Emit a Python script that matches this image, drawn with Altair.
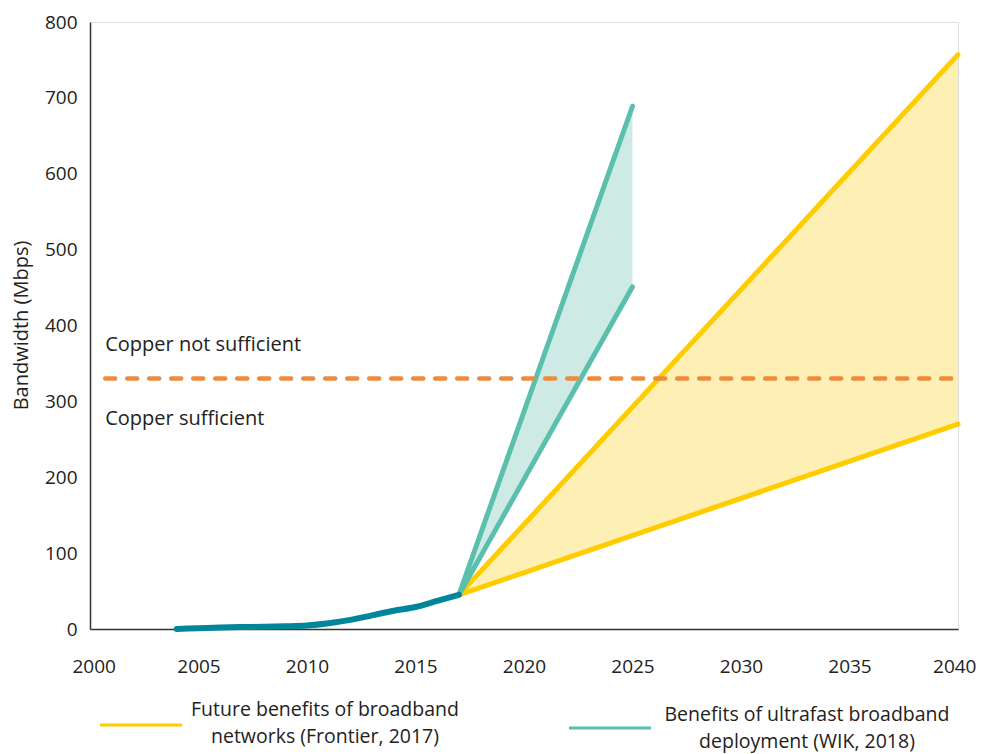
import altair as alt
import pandas as pd

# Historical bandwidth
hist_years = [2004, 2005, 2006, 2007, 2008, 2009, 2010, 2011, 2012, 2013, 2014, 2015, 2016, 2017]
hist_values = [0, 1, 2, 2.5, 3, 3.5, 4.5, 7.5, 12, 18, 24, 29, 37, 45]

# Projections
series_names = ["Future benefits of broadband networks (Frontier, 2017)",
                "Benefits of ultrafast broadband deployment (WIK, 2018)"]
legend_lines = [["Future benefits of broadband", "networks (Frontier, 2017)"],
                ["Benefits of ultrafast broadband", "deployment (WIK, 2018)"]]
proj_start_year = 2017
proj_start_value = 45
proj_end_years = [2040, 2025]
proj_upper = [757, 689]
proj_lower = [270, 451]

# Copper threshold
copper_value = 330
copper_years = [2000.7, 2040]
label_texts = ["Copper not sufficient", "Copper sufficient"]
label_values = [374, 277]
label_year = 2000.7

YELLOW = "#FFCC00"
YELLOW_FILL = "#FEF0B4"
GREEN = "#5BBFAD"
GREEN_FILL = "#CDEAE5"
TEAL = "#00859A"
ORANGE = "#F08A3C"
FONT = "Open Sans"
TXT = "#222222"
series_colors = [YELLOW, GREEN]

rows_line = []
rows_area = []
for name, ey, up, lo in zip(series_names, proj_end_years, proj_upper, proj_lower):
    for bound, v in [("upper", up), ("lower", lo)]:
        rows_line.append({"series": name, "bound": bound, "year": proj_start_year, "value": proj_start_value})
        rows_line.append({"series": name, "bound": bound, "year": ey, "value": v})
    rows_area.append({"series": name, "year": proj_start_year, "lo": proj_start_value, "hi": proj_start_value})
    rows_area.append({"series": name, "year": ey, "lo": lo, "hi": up})

line_df = pd.DataFrame(rows_line)
area_df = pd.DataFrame(rows_area)
hist_df = pd.DataFrame({"year": hist_years, "value": hist_values})
copper_df = pd.DataFrame({"year": copper_years, "value": [copper_value] * len(copper_years)})
label_df = pd.DataFrame({"year": [label_year] * 2, "value": label_values, "text": label_texts})

x_scale = alt.Scale(domain=[2000, 2040], nice=False, zero=False)
y_scale = alt.Scale(domain=[0, 800], nice=False)

x_axis = alt.Axis(values=list(range(2000, 2041, 5)), format="d", title=None, ticks=False,
                  grid=False, labelPadding=28, labelFontSize=19, labelFont=FONT,
                  labelFlush=True, labelFlushOffset=18,
                  labelColor=TXT, domainColor="#333", domainWidth=1.5)
y_axis = alt.Axis(values=list(range(0, 801, 100)), title="Bandwidth (Mbps)", ticks=False, grid=False,
                  labelPadding=13, labelFontSize=19, labelFont=FONT, labelColor=TXT, labelFlush=False,
                  domainColor="#333", domainWidth=1.5, titleFont=FONT, titleFontSize=20,
                  titleFontWeight="normal", titleColor=TXT, titleX=-69, titleY=303,
                  titleBaseline="middle", titleAngle=270)

color_scale = alt.Scale(domain=series_names, range=series_colors)
fill_scale = alt.Scale(domain=series_names, range=[YELLOW_FILL, GREEN_FILL])

areas = alt.Chart(area_df).mark_area(opacity=1).encode(
    x=alt.X("year:Q", scale=x_scale, axis=x_axis),
    y=alt.Y("lo:Q", scale=y_scale, axis=y_axis),
    y2="hi:Q",
    fill=alt.Fill("series:N", scale=fill_scale, legend=None),
    detail="series:N",
)

lines = alt.Chart(line_df).mark_line(strokeWidth=5, strokeCap="round").encode(
    x=alt.X("year:Q", scale=x_scale),
    y=alt.Y("value:Q", scale=y_scale),
    color=alt.Color("series:N", scale=color_scale, legend=None),
    detail="bound:N",
)

hist = alt.Chart(hist_df).mark_line(strokeWidth=6, strokeCap="round", strokeJoin="round",
                                    color=TEAL, interpolate="monotone").encode(
    x=alt.X("year:Q", scale=x_scale),
    y=alt.Y("value:Q", scale=y_scale),
)

copper = alt.Chart(copper_df).mark_line(strokeWidth=4.5, strokeDash=[10, 12], strokeCap="round",
                                        color=ORANGE).encode(
    x=alt.X("year:Q", scale=x_scale),
    y=alt.Y("value:Q", scale=y_scale),
)

labels = alt.Chart(label_df).mark_text(align="left", baseline="middle", font=FONT, fontSize=20,
                                       color=TXT).encode(
    x=alt.X("year:Q", scale=x_scale),
    y=alt.Y("value:Q", scale=y_scale),
    text="text:N",
)

# Legend (drawn below the plot area; pixel offsets relative to the plot origin)
legend_layout = [
    {"x0": 10, "x1": 92, "sy": 703, "tx": 235, "ty": 694},
    {"x0": 479, "x1": 561, "sy": 706, "tx": 717, "ty": 699},
]
legend_layers = []
for name, txt, col, lay in zip(series_names, legend_lines, series_colors, legend_layout):
    one = pd.DataFrame({"series": [name]})
    legend_layers.append(
        alt.Chart(one).mark_rule(strokeWidth=3).encode(
            x=alt.value(lay["x0"]), x2=alt.value(lay["x1"]), y=alt.value(lay["sy"]),
            color=alt.value(col),
        )
    )
    legend_layers.append(
        alt.Chart(one).mark_text(align="center", baseline="alphabetic", font=FONT, fontSize=19.5,
                                 lineHeight=27, color=TXT).encode(
            x=alt.value(lay["tx"]), y=alt.value(lay["ty"]), text=alt.value(txt),
        )
    )

chart = alt.layer(areas, lines, hist, copper, labels, *legend_layers).properties(
    width=868, height=607,
    autosize=alt.AutoSizeParams(type="none"),
    padding={"left": 82, "top": 14, "right": 18, "bottom": 125},
).configure_view(stroke=None).configure(font=FONT)

chart.save("out.html", embed_options={"renderer": "svg", "actions": False})
